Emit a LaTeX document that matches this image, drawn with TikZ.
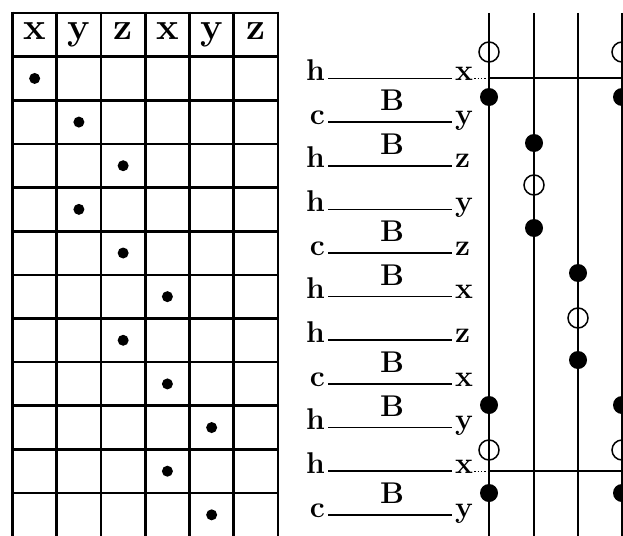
\documentclass[tikz,border=0pt]{standalone}
\usepackage{fontspec}
\begin{document}
\begin{tikzpicture}[x=1pt,y=-1pt,
  grid/.style={line width=2.6pt},
  hdr/.style={font=\fontsize{38}{38}\selectfont\bfseries, anchor=mid, inner sep=0pt},
  celldot/.style={circle, fill=black, inner sep=0pt, minimum size=11pt},
  lab/.style={font=\fontsize{30}{30}\selectfont\bfseries, inner sep=0pt},
  blab/.style={font=\fontsize{30}{30}\selectfont\bfseries, inner sep=0pt},
  hline/.style={line width=1.7pt},
  vline/.style={line width=2.1pt},
  fullc/.style={circle, fill=black, inner sep=0pt, minimum size=18pt},
  openc/.style={circle, draw=black, line width=1.5pt, inner sep=0pt, minimum size=20pt},
  link/.style={line width=2.1pt},
  linkdot/.style={line width=1.4pt, dotted}]
\useasboundingbox (0,0) rectangle (623,535);
\clip (0,0) rectangle (623,535);
\fill[white] (0,0) rectangle (623,535);

% ---- table ----
\foreach \i in {0,...,6}
  \draw[grid] (12.5+44.25*\i,11.7) -- (12.5+44.25*\i,540);
\foreach \j in {0,...,11}
  \draw[grid] (11.2,13+43.64*\j) -- (279.3,13+43.64*\j);
\foreach \t [count=\c] in {x,y,z,x,y,z}
  \node[hdr] (hd\c) at (12.5+44.25*\c-22.1,37.5) {\t};
\foreach \r/\c in {1/1,2/2,3/3,4/2,5/3,6/4,7/3,8/4,9/5,10/4,11/5}
  \node[celldot] (d\r) at (12.5+44.25*\c-22.1,13+43.64*\r+21.8) {};

% ---- labels ----
\foreach \r/\a/\b/\k in {1/h/x/0,2/c/y/1,3/h/z/1,4/h/y/0,5/c/z/1,6/h/x/1,7/h/z/0,8/c/x/1,9/h/y/1,10/h/x/0,11/c/y/1}{
  \node[lab, anchor=mid east] (L\r) at (325,13+43.64*\r+21.8) {\a};
  \node[lab, anchor=mid west] (R\r) at (455,13+43.64*\r+21.8) {\b};
  \draw[hline] ([xshift=3pt]L\r.mid east) -- ([xshift=-3pt]R\r.mid west);
  \ifnum\k=1
    \node[blab] (B\r) at (392,13+43.64*\r) {B};
  \fi
}

% ---- vertical lines ----
\foreach \n/\x in {1/489,2/534,3/578,4/622}{
  \coordinate (v\n t) at (\x,13);
  \coordinate (v\n b) at (\x,540);
  \draw[vline] (v\n t) -- (v\n b);
}

% ---- circles ----
\foreach \n/\x in {1/489,4/622}{
  \node[openc] (o\n a) at (\x,52) {};
  \node[fullc] (f\n a) at (\x,97) {};
  \node[fullc] (f\n b) at (\x,405) {};
  \node[openc] (o\n b) at (\x,450) {};
  \node[fullc] (f\n c) at (\x,493) {};
}
\node[fullc] (f2a) at (534,143) {};
\node[openc] (o2a) at (534,185) {};
\node[fullc] (f2b) at (534,228) {};
\node[fullc] (f3a) at (578,273) {};
\node[openc] (o3a) at (578,318) {};
\node[fullc] (f3b) at (578,360) {};

% ---- horizontal links ----
\coordinate (k1) at (v1t |- R1.mid east);
\coordinate (k1e) at (v4t |- R1.mid east);
\draw[linkdot] ([xshift=1pt]R1.mid east) -- (k1);
\draw[link] (k1) -- ([xshift=4pt]k1e);
\coordinate (k10) at (v1t |- R10.mid east);
\coordinate (k10e) at (v4t |- R10.mid east);
\draw[linkdot] ([xshift=1pt]R10.mid east) -- (k10);
\draw[link] (k10) -- ([xshift=4pt]k10e);
\end{tikzpicture}
\end{document}
